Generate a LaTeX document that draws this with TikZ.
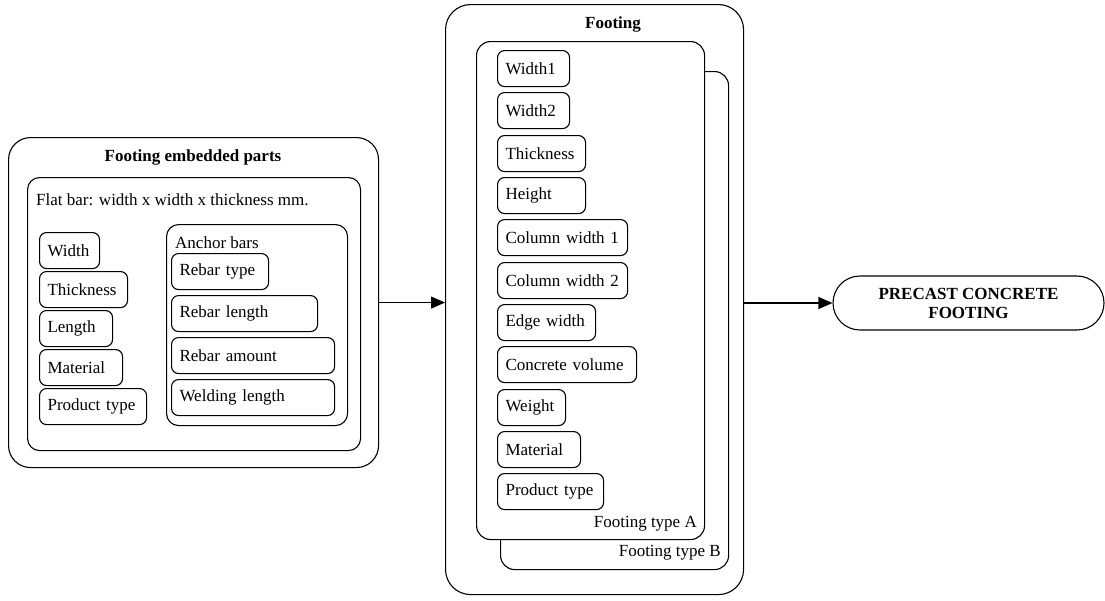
\documentclass[tikz,border=0pt]{standalone}
\usepackage{fontspec}
\setmainfont{Liberation Serif}
\usetikzlibrary{arrows.meta}
\begin{document}
\begin{tikzpicture}[x=1pt,y=-1pt,
  every node/.style={font=\fontsize{17}{19}\selectfont},
  frame/.style={draw, line width=1.1pt, fill=white, anchor=north west, inner sep=0pt},
  item/.style={draw, line width=1.1pt, fill=white, rounded corners=7pt, anchor=north west,
               minimum height=36pt, inner xsep=8pt, inner ysep=0pt, align=left},
  label/.style={inner sep=0pt},
  title/.style={inner sep=0pt, font=\fontsize{17}{19}\selectfont\bfseries},
  flow/.style={line width=1.2pt, -{Triangle[length=14pt,width=12pt]}}]
\useasboundingbox (0,0) rectangle (1105,600);

% ---- Footing embedded parts ----
\node[frame, rounded corners=22pt, minimum width=370pt, minimum height=330pt] (emb) at (8,137) {};
\node[title] (embt) at (193,157) {Footing embedded parts};
\node[frame, rounded corners=12pt, minimum width=333pt, minimum height=273pt] (flat) at (27,177) {};
\node[label, anchor=west] (flatt) at (36,200) {Flat bar: width x width x thickness mm.};

\node[item, text width=44pt] (e1) at (39,232) {Width};
\node[item, text width=72pt] (e2) at (39,271) {Thickness};
\node[item, text width=57pt] (e3) at (39,310) {Length};
\node[item, text width=67pt] (e4) at (39,349) {Material};
\node[item, text width=91pt] (e5) at (39,388) {Product type};

\node[frame, rounded corners=12pt, minimum width=181pt, minimum height=201pt] (anc) at (166,224) {};
\node[label, anchor=west] (anct) at (175,243) {Anchor bars};
\node[item, text width=81pt] (a1) at (171,253) {Rebar type};
\node[item, text width=130pt] (a2) at (171,295) {Rebar length};
\node[item, text width=147pt] (a3) at (171,337) {Rebar amount};
\node[item, text width=147pt] (a4) at (171,379) {Welding length};

% ---- Footing ----
\node[frame, rounded corners=25pt, minimum width=298pt, minimum height=590pt] (foot) at (445,4) {};
\node[title] (foott) at (613,24) {Footing};
\node[frame, rounded corners=14pt, minimum width=228pt, minimum height=498pt] (typeb) at (500,71) {};
\node[label, anchor=east] (typebt) at (721,553) {Footing type B};
\node[frame, rounded corners=14pt, minimum width=228pt, minimum height=498pt] (typea) at (476,41) {};
\node[label, anchor=east] (typeat) at (697,524) {Footing type A};

\node[item, text width=56pt]  (f1)  at (497,50)  {Width1};
\node[item, text width=56pt]  (f2)  at (497,92)  {Width2};
\node[item, text width=72pt]  (f3)  at (497,135) {Thickness};
\node[item, text width=72pt]  (f4)  at (497,177) {Height};
\node[item, text width=114pt] (f5)  at (497,219) {\mbox{Column width 1}};
\node[item, text width=114pt] (f6)  at (497,262) {\mbox{Column width 2}};
\node[item, text width=82pt]  (f7)  at (497,304) {Edge width};
\node[item, text width=123pt] (f8)  at (497,346) {\mbox{Concrete volume}};
\node[item, text width=52pt]  (f9)  at (497,389) {Weight};
\node[item, text width=67pt]  (f10) at (497,431) {Material};
\node[item, text width=90pt]  (f11) at (497,473) {Product type};

% ---- Result ----
\node[draw, line width=1.1pt, rounded corners=27pt, minimum width=271pt, minimum height=54pt,
      inner sep=0pt, align=center, font=\fontsize{17}{19}\selectfont\bfseries] (pc) at (968.5,303)
      {PRECAST CONCRETE\\FOOTING};

% ---- Connectors ----
\draw[flow] (emb.east) -- (emb.east -| foot.west);
\draw[flow] (foot.east |- pc.west) -- (pc.west);
\end{tikzpicture}
\end{document}
